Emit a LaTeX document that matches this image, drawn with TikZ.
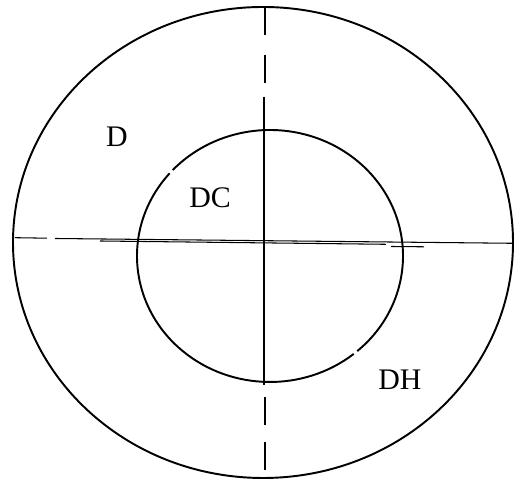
\documentclass[tikz,border=0pt]{standalone}
\usepackage{fontspec}
\setmainfont{Liberation Serif}
\usepackage{tikz}
\newcommand{\zonelabel}{\fontsize{17}{20}\selectfont}

\begin{document}
\begin{tikzpicture}[x=0.02cm,y=0.02cm,
    rim/.style={line width=1.1pt},
    axisline/.style={line width=0.6pt},
    zone/.style={font=\zonelabel,inner sep=0pt}]
    \useasboundingbox (0,0) rectangle (518,489);

    % Outer and inner circles
    \draw[rim] (263,246.5) ellipse [x radius=250, y radius=235.5];
    \draw[rim] (270,233) ++(139:133 and 126) arc [start angle=139, end angle=309, x radius=133, y radius=126];
    \draw[rim] (270,233) ++(311:133 and 126) arc [start angle=311, end angle=497, x radius=133, y radius=126];

    % Vertical axis
    \draw[axisline] (265,482) -- (265,454);
    \draw[axisline] (265,434) -- (265,406);
    \draw[axisline] (264,392) -- (264,104);
    \draw[axisline] (265,92) -- (265,64);
    \draw[axisline] (265,47) -- (265,19);

    % Horizontal axis
    \draw[axisline] (15,251.3) -- (47,250.8);
    \draw[axisline] (55,250.5) -- (513,245.7);
    \draw[axisline] (100,248) -- (386,244.7);
    \draw[axisline] (391,242.5) -- (424,242.2);

    % Labels
    \node[zone] (d) at (117,352) {D};
    \node[zone] (dc) at (210,291) {DC};
    \node[zone] (dh) at (400,109) {DH};
\end{tikzpicture}
\end{document}
